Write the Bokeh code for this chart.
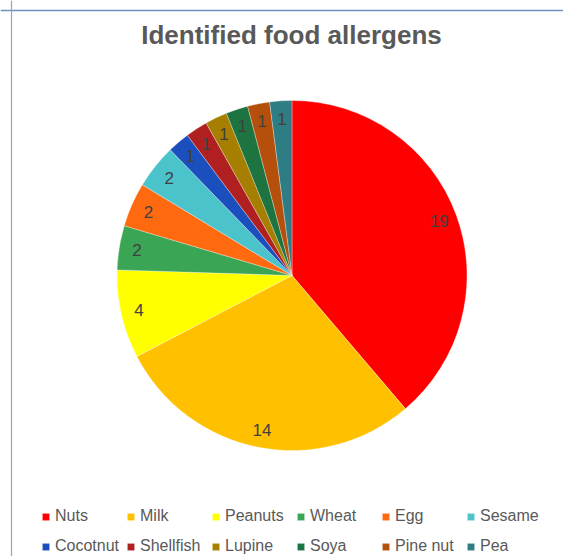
import numpy as np
from bokeh.plotting import figure
from bokeh.models import Range1d, Span, Legend, LegendItem, ColumnDataSource
from bokeh.core.properties import value
from bokeh.embed import file_html
from bokeh.resources import INLINE

# Allergen counts
allergens = ["Nuts", "Milk", "Peanuts", "Wheat", "Egg", "Sesame",
             "Cocotnut", "Shellfish", "Lupine", "Soya", "Pine nut", "Pea"]
counts = [19, 14, 4, 2, 2, 2, 1, 1, 1, 1, 1, 1]
colors = ["#FF0000", "#FFC000", "#FFFF00", "#3AA655", "#FF6A10", "#4BC3CB",
          "#1C4FBE", "#B02020", "#A67E00", "#1E7440", "#B4500C", "#2E7D84"]

W, H = 563, 556
FONT = "Liberation Sans"

# slice angles: start at 12 o'clock, run clockwise
vals = np.array(counts, dtype=float)
frac_end = np.cumsum(vals) / vals.sum()
frac_start = frac_end - vals / vals.sum()
start = np.pi / 2 - 2 * np.pi * frac_start
end = np.pi / 2 - 2 * np.pi * frac_end
mid = (start + end) / 2

cx, cy, r = 291.5, H - 275, 175
lab_r = 157

src = ColumnDataSource(dict(
    name=allergens, count=counts, color=colors,
    start=start, end=end,
    lx=cx + lab_r * np.cos(mid), ly=cy + lab_r * np.sin(mid),
    label=[str(c) for c in counts],
))

p = figure(width=W, height=H, x_range=Range1d(0, W), y_range=Range1d(0, H),
           output_backend="svg", toolbar_location=None, title=None,
           x_axis_location=None, y_axis_location=None, min_border=0)
p.grid.visible = False
p.outline_line_color = None
p.background_fill_color = "white"
p.border_fill_color = "white"

# chart area border (top and left edges)
p.add_layout(Span(location=H - 10, dimension="width", line_color="#7290BC", line_width=1.5))
p.add_layout(Span(location=11, dimension="height", line_color="#8FA4C6", line_width=1.2))

pie = p.wedge(x=cx, y=cy, radius=r, start_angle="start", end_angle="end",
              direction="clock", fill_color="color", line_color="white",
              line_width=0.6, line_alpha=0.5, source=src)

p.text(x="lx", y="ly", text="label", source=src, text_align="center",
       text_baseline="middle", text_font=value(FONT), text_font_size="17px",
       text_color="#404040")

p.text(x=[291], y=[H - 34], text=["Identified food allergens"], text_align="center",
       text_baseline="middle", text_font=value(FONT), text_font_size="26px",
       text_font_style="bold", text_color="#595959")

items = [LegendItem(label=n, renderers=[pie], index=i) for i, n in enumerate(allergens)]
legend = Legend(items=items, ncols=6, orientation="horizontal", location=(41, -5),
                glyph_width=9, glyph_height=9, label_standoff=5, label_width=71,
                label_height=30, spacing=0, padding=0, margin=0,
                border_line_color=None, background_fill_alpha=0,
                label_text_font=FONT, label_text_font_size="16px",
                label_text_color="#595959")
p.add_layout(legend)

open("out.html", "w").write(file_html(p, INLINE))
